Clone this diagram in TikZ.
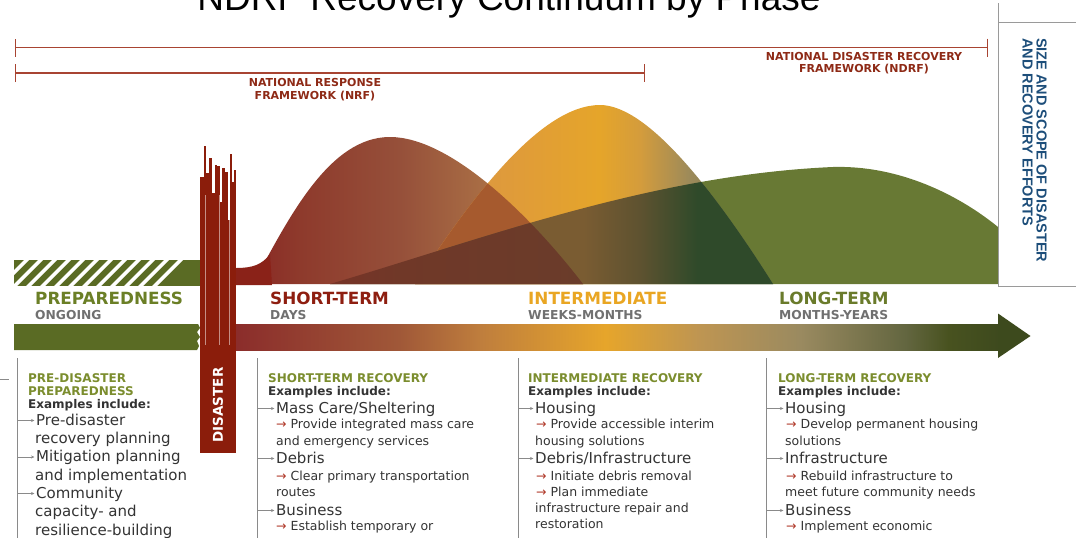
\documentclass[tikz,border=0pt]{standalone}
\usepackage{fontspec}
\setmainfont{DejaVu Sans}
\newfontfamily\arialfont{Liberation Sans}
\usetikzlibrary{arrows.meta}

\definecolor{frameline}{HTML}{A84432}
\definecolor{framelabel}{HTML}{8E2A16}
\definecolor{panelblue}{HTML}{1D4E7A}
\definecolor{panelgray}{HTML}{9A9A9A}
\definecolor{prepgreen}{HTML}{5A6B24}
\definecolor{disred}{HTML}{8B1D0B}
\definecolor{footred}{HTML}{8A2218}
\definecolor{ltgreen}{HTML}{687934}
\definecolor{redorange}{HTML}{A65A2E}
\definecolor{headolive}{HTML}{3D4A1D}
\definecolor{phasegray}{HTML}{707070}
\definecolor{shortred}{HTML}{8E1E10}
\definecolor{midorange}{HTML}{E9A623}
\definecolor{longgreen}{HTML}{6A7B2B}
\definecolor{preplbl}{HTML}{6B7F26}
\definecolor{headgreen}{HTML}{7B8D2E}
\definecolor{textdark}{HTML}{333333}
\definecolor{linegray}{HTML}{8A8A8A}
\definecolor{arrowred}{HTML}{B03A2A}

% shading colours
\definecolor{st0}{HTML}{8A2A25}\definecolor{st1}{HTML}{8E3A2C}\definecolor{st2}{HTML}{96503A}
\definecolor{st3}{HTML}{A86C44}\definecolor{st4}{HTML}{BC8448}
\definecolor{in0}{HTML}{D8944A}\definecolor{in1}{HTML}{E09C38}\definecolor{in2}{HTML}{E5A52A}
\definecolor{in3}{HTML}{D49C3C}\definecolor{in4}{HTML}{9C8A5A}\definecolor{in5}{HTML}{6A7048}
\definecolor{il0}{HTML}{7A5C32}\definecolor{il1}{HTML}{5E5230}\definecolor{il2}{HTML}{2F4A2A}
\definecolor{rl0}{HTML}{7E2E26}\definecolor{rl1}{HTML}{703828}\definecolor{rl2}{HTML}{6A3C2A}
\definecolor{ar0}{HTML}{8B2D2B}\definecolor{ar1}{HTML}{A05838}\definecolor{ar2}{HTML}{BF7E3D}
\definecolor{ar3}{HTML}{E6A52B}\definecolor{ar4}{HTML}{BE9552}\definecolor{ar5}{HTML}{9A8A60}
\definecolor{ar6}{HTML}{636640}\definecolor{ar7}{HTML}{48521F}\definecolor{ar8}{HTML}{3E4A1E}

\pgfdeclarehorizontalshading{shortshade}{100bp}{color(0bp)=(st0); color(25bp)=(st0); color(32.1bp)=(st1); color(47.3bp)=(st2); color(59.4bp)=(st3); color(75bp)=(st4); color(100bp)=(st4)}
\pgfdeclarehorizontalshading{midshade}{100bp}{color(0bp)=(in0); color(25bp)=(in0); color(39.7bp)=(in1); color(50.8bp)=(in2); color(56.4bp)=(in3); color(63.4bp)=(in4); color(75bp)=(in5); color(100bp)=(in5)}
\pgfdeclarehorizontalshading{midlongshade}{100bp}{color(0bp)=(il0); color(48.5bp)=(il0); color(56.4bp)=(il1); color(64.4bp)=(il2); color(100bp)=(il2)}
\pgfdeclarehorizontalshading{shortlongshade}{100bp}{color(0bp)=(rl0); color(25bp)=(rl0); color(47.3bp)=(rl1); color(75bp)=(rl2); color(100bp)=(rl2)}
\pgfdeclarehorizontalshading{arrowshade}{100bp}{color(0bp)=(ar0); color(27.3bp)=(ar0); color(37.5bp)=(ar1); color(42.6bp)=(ar2); color(50.4bp)=(ar3); color(56.3bp)=(ar4); color(62.6bp)=(ar5); color(69.2bp)=(ar6); color(71.9bp)=(ar7); color(75bp)=(ar8); color(100bp)=(ar8)}

% the three phase curves
\newcommand{\shortbell}{(253,284) .. controls (290,215) and (330,137) .. (390,137) .. controls (450,137) and (530,215) .. (583,284) -- cycle}
\newcommand{\midbell}{(415,284) .. controls (470,200) and (540,105) .. (600,105) .. controls (650,105) and (720,200) .. (773,284) -- cycle}
\newcommand{\longcurve}{(330,284) .. controls (480,240) and (650,175) .. (833,167) .. controls (905,165) and (965,200) .. (998,227) -- (998,284) -- cycle}
\newcommand{\redarr}{{\color{arrowred}→}\ }

\begin{document}
\begin{tikzpicture}[x=1pt, y=-1pt,
  framespan/.style={draw=frameline, line width=1.4pt, {Bar[width=18pt]}-{Bar[width=18pt]}},
  framelbl/.style={anchor=north, align=center, inner sep=0, text=framelabel, font=\fontsize{11}{12.5}\selectfont\bfseries},
  phaselbl/.style={anchor=base west, inner sep=0, font=\fontsize{16.8}{18}\selectfont\bfseries},
  phasesub/.style={anchor=base west, inner sep=0, text=phasegray, font=\fontsize{12.3}{14}\selectfont\bfseries},
  colhead/.style={anchor=base west, inner sep=0, text=headgreen, font=\fontsize{12}{14}\selectfont\bfseries},
  exhead/.style={anchor=base west, inner sep=0, text=textdark, font=\fontsize{12}{14}\selectfont\bfseries},
  item/.style={anchor=base west, inner sep=0, text=textdark, text height=11pt, text depth=2pt, font=\fontsize{15}{18}\selectfont},
  subitem/.style={anchor=base west, inner sep=0, text=textdark, font=\fontsize{12.5}{15}\selectfont},
  colline/.style={draw=linegray, line width=0.8pt},
  itemtick/.style={draw=linegray, line width=0.7pt, -{Stealth[length=3.5pt,width=3pt]}, shorten >=1.5pt},
  panelline/.style={draw=panelgray, line width=1pt}]
\useasboundingbox (0,0) rectangle (1076,538);

% title and framework spans
\node[anchor=base, inner sep=0, font=\arialfont\fontsize{37}{40}\selectfont] (title) at (509,10) {NDRF Recovery Continuum by Phase};
\coordinate (ndrf-l) at (14.5,47.5);
\coordinate (ndrf-r) at (988,47.5);
\coordinate (nrf-l) at (14.5,73);
\coordinate (nrf-r) at (645,73);
\draw[framespan] (ndrf-l) -- (ndrf-r);
\draw[framespan] (nrf-l) -- (nrf-r);
\node[framelbl] (nrf-lbl) at (315,78.5) {NATIONAL RESPONSE\\FRAMEWORK (NRF)};
\node[framelbl] (ndrf-lbl) at (864,52) {NATIONAL DISASTER RECOVERY\\FRAMEWORK (NDRF)};

% curves
\fill[ltgreen] \longcurve;
\shade[shading=shortshade] \shortbell;
\shade[shading=midshade] \midbell;
\begin{scope}
  \clip \shortbell;
  \fill[redorange] \midbell;
\end{scope}
\begin{scope}
  \clip \longcurve;
  \shade[shading=midlongshade] \midbell;
  \shade[shading=shortlongshade] \shortbell;
\end{scope}
\fill[footred] (236,285) -- (236,268) .. controls (252,268) and (262,265) .. (270,254) -- (272,285) -- cycle;

% preparedness band
\fill[prepgreen] (14,260) rectangle (200,286);
\begin{scope}
  \clip (14,260) rectangle (200,286);
  \foreach \i in {0,...,11}
    \fill[white] (-2+14*\i,286) -- ++(5,0) -- ++(26,-26) -- ++(-5,0) -- cycle;
\end{scope}

% timeline arrow
\fill[prepgreen] (14,324) -- (198,324) -- (200,328) -- (197,332) -- (200,337) -- (197,341) -- (199,346) -- (197,350) -- (14,350) -- cycle;
\shade[shading=arrowshade] (200,324) rectangle (998,350);
\fill[headolive] (998,313.5) -- (1030.5,336) -- (998,358) -- cycle;

% disaster column
\foreach \x/\w/\t in {200/4/177, 204/1.5/146, 205.5/3/173, 208.5/3/158, 211.5/3/193, 214.5/2/165, 216.5/3/166, 219.5/2/202, 221.5/3/168, 224.5/3/172, 227.5/2/220, 229.5/2/154, 231.5/2.5/182, 234/2/170}
  \fill[disred] (\x,\t) rectangle (\x+\w,240);
\fill[disred] (200,230) rectangle (236,453);
\foreach \x in {205,219.5,229.5}
  \draw[white, opacity=0.5, line width=0.6pt] (\x,195) -- (\x,345);
\node[rotate=90, inner sep=0, text=white, font=\fontsize{13.5}{15}\selectfont\bfseries] (dis-lbl) at (218,405) {DISASTER};

% size and scope panel
\coordinate (pnl-top) at (998,3);
\coordinate (pnl-bot) at (998,286);
\draw[panelline] (pnl-top) -- (pnl-bot);
\draw[panelline] (998,22) -- (1076,22);
\draw[panelline] (pnl-bot) -- (1076,286);
\node[rotate=-90, anchor=north west, inner sep=0, align=left, text=panelblue, font=\arialfont\fontsize{14.5}{14}\selectfont\bfseries] (scope-lbl) at (1047,38) {SIZE AND SCOPE OF DISASTER\\AND RECOVERY EFFORTS};

% phase labels
\node[phaselbl, text=preplbl] (prep) at (35,304.5) {PREPAREDNESS};
\node[phasesub] (prep-t) at (35,319.5) {ONGOING};
\node[phaselbl, text=shortred] (short) at (270,304.5) {SHORT-TERM};
\node[phasesub] (short-t) at (270,319.5) {DAYS};
\node[phaselbl, text=midorange] (mid) at (528,304.5) {INTERMEDIATE};
\node[phasesub] (mid-t) at (528,319.5) {WEEKS-MONTHS};
\node[phaselbl, text=longgreen] (long) at (779,304.5) {LONG-TERM};
\node[phasesub] (long-t) at (779,319.5) {MONTHS-YEARS};

% column lines
\draw[colline] (0,379) -- (9,379);
\foreach \n/\x in {c1/17, c2/257, c3/518, c4/766} {
  \coordinate (\n top) at (\x,358);
  \coordinate (\n bot) at (\x,538);
  \draw[colline] (\n top) -- (\n bot);
}

% pre-disaster column
\node[colhead] (c1h1) at (28,382.7) {PRE-DISASTER};
\node[colhead] (c1h2) at (28,395) {PREPAREDNESS};
\node[exhead] (c1ex) at (28,408.3) {Examples include:};
\node[item] (c1i1) at (36,425) {Pre-disaster};
\node[item] (c1i1b) at (35,443) {recovery planning};
\node[item] (c1i2) at (36,461.5) {Mitigation planning};
\node[item] (c1i2b) at (35,480) {and implementation};
\node[item] (c1i3) at (36,498) {Community};
\node[item] (c1i3b) at (35,516.5) {capacity- and};
\node[item] (c1i3c) at (35,535) {resilience-building};
\foreach \m in {c1i1, c1i2, c1i3}
  \draw[itemtick] (\m.west -| c1top) -- (\m.west);

% short-term column
\node[colhead] (c2h) at (268,382.7) {SHORT-TERM RECOVERY};
\node[exhead] (c2ex) at (268,395) {Examples include:};
\node[item] (c2i1) at (276,413) {Mass Care/Sheltering};
\node[subitem] (c2s1) at (276,428.3) {\redarr Provide integrated mass care};
\node[subitem] (c2s1b) at (276,445) {and emergency services};
\node[item] (c2i2) at (276,463) {Debris};
\node[subitem] (c2s2) at (276,480) {\redarr Clear primary transportation};
\node[subitem] (c2s2b) at (276,496) {routes};
\node[item] (c2i3) at (276,515) {Business};
\node[subitem] (c2s3) at (276,530) {\redarr Establish temporary or};
\foreach \m in {c2i1, c2i2, c2i3}
  \draw[itemtick] (\m.west -| c2top) -- (\m.west);

% intermediate column
\node[colhead] (c3h) at (528,382.7) {INTERMEDIATE RECOVERY};
\node[exhead] (c3ex) at (528,395) {Examples include:};
\node[item] (c3i1) at (535,413) {Housing};
\node[subitem] (c3s1) at (536,428.3) {\redarr Provide accessible interim};
\node[subitem] (c3s1b) at (535,445) {housing solutions};
\node[item] (c3i2) at (535,463) {Debris/Infrastructure};
\node[subitem] (c3s2) at (536,480) {\redarr Initiate debris removal};
\node[subitem] (c3s3) at (536,496) {\redarr Plan immediate};
\node[subitem] (c3s3b) at (535,512.7) {infrastructure repair and};
\node[subitem] (c3s3c) at (535,528.5) {restoration};
\foreach \m in {c3i1, c3i2}
  \draw[itemtick] (\m.west -| c3top) -- (\m.west);

% long-term column
\node[colhead] (c4h) at (778,382.7) {LONG-TERM RECOVERY};
\node[exhead] (c4ex) at (778,395) {Examples include:};
\node[item] (c4i1) at (785,413) {Housing};
\node[subitem] (c4s1) at (786,428.3) {\redarr Develop permanent housing};
\node[subitem] (c4s1b) at (785,445) {solutions};
\node[item] (c4i2) at (785,463) {Infrastructure};
\node[subitem] (c4s2) at (786,480) {\redarr Rebuild infrastructure to};
\node[subitem] (c4s2b) at (785,496) {meet future community needs};
\node[item] (c4i3) at (785,515) {Business};
\node[subitem] (c4s3) at (786,530) {\redarr Implement economic};
\foreach \m in {c4i1, c4i2, c4i3}
  \draw[itemtick] (\m.west -| c4top) -- (\m.west);
\end{tikzpicture}
\end{document}
